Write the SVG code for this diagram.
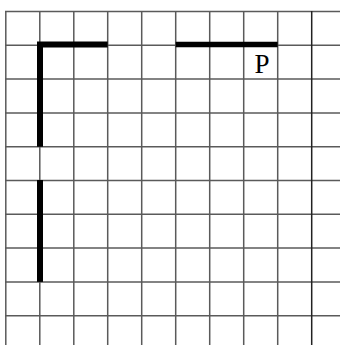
<svg xmlns="http://www.w3.org/2000/svg" width="340" height="345" viewBox="0 0 340 345">
<style>
.g{stroke:#5a5a5a;stroke-width:1.5;fill:none}
.t{stroke:#000;fill:none;stroke-linecap:butt}
.lbl{font-family:"Liberation Serif","Times New Roman",serif;font-size:27px;fill:#000}
</style>
<rect width="340" height="345" fill="#fff"/>
<g id="grid">
<line class="g" x1="5" y1="11.5" x2="340" y2="11.5"/>
<line class="g" x1="5" y1="45.3" x2="340" y2="45.3"/>
<line class="g" x1="5" y1="79.1" x2="340" y2="79.1"/>
<line class="g" x1="5" y1="112.9" x2="340" y2="112.9"/>
<line class="g" x1="5" y1="146.7" x2="340" y2="146.7"/>
<line class="g" x1="5" y1="180.5" x2="340" y2="180.5"/>
<line class="g" x1="5" y1="214.3" x2="340" y2="214.3"/>
<line class="g" x1="5" y1="248.1" x2="340" y2="248.1"/>
<line class="g" x1="5" y1="281.9" x2="340" y2="281.9"/>
<line class="g" x1="5" y1="315.7" x2="340" y2="315.7"/>
<line class="g" x1="5.8" y1="11" x2="5.8" y2="345"/>
<line class="g" x1="39.8" y1="11" x2="39.8" y2="345"/>
<line class="g" x1="73.8" y1="11" x2="73.8" y2="345"/>
<line class="g" x1="107.7" y1="11" x2="107.7" y2="345"/>
<line class="g" x1="141.7" y1="11" x2="141.7" y2="345"/>
<line class="g" x1="175.7" y1="11" x2="175.7" y2="345"/>
<line class="g" x1="209.7" y1="11" x2="209.7" y2="345"/>
<line class="g" x1="243.7" y1="11" x2="243.7" y2="345"/>
<line class="g" x1="277.7" y1="11" x2="277.7" y2="345"/>
<line class="g" x1="311.7" y1="11" x2="311.7" y2="345" style="stroke:#222"/>
</g>
<g id="walls">
<path class="t" d="M40 146.7 V44.5 H107.7" stroke-width="6" stroke-linejoin="miter"/>
<line class="t" x1="175.7" y1="44.5" x2="277.7" y2="44.5" stroke-width="5.5"/>
<line class="t" x1="40" y1="180" x2="40" y2="281.9" stroke-width="6"/>
</g>
<g id="label-P">
<text class="lbl" x="254.5" y="72.7">P</text>
</g>
</svg>
